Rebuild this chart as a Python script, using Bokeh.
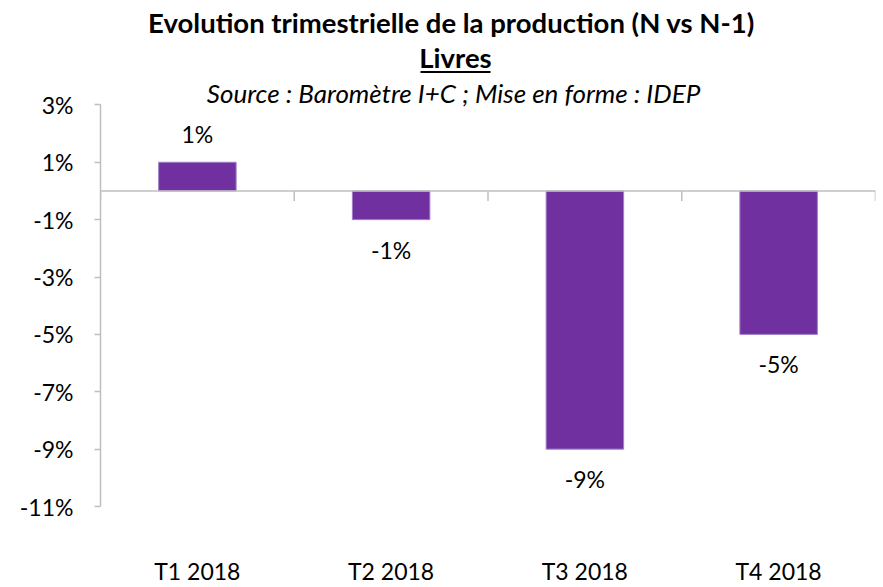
from bokeh.plotting import figure
from bokeh.models import (ColumnDataSource, FactorRange, Range1d, FixedTicker,
                          PrintfTickFormatter, Span)
from bokeh.core.properties import value
from bokeh.embed import file_html
from bokeh.resources import INLINE

categories = ["T1 2018", "T2 2018", "T3 2018", "T4 2018"]
values = [1, -1, -9, -5]
y_ticks = [3, 1, -1, -3, -5, -7, -9, -11]
title_text = "Evolution trimestrielle de la production (N vs N-1)"
subtitle_text = "Livres"
source_text = "Source : Baromètre I+C ; Mise en forme : IDEP"

FONT = "Lato"
PURPLE = "#7030A0"
GRID = "#BFBFBF"
FS = "23px"

# layout (pixels)
W, H = 877, 587
LEFT, RIGHT, BOTTOM = 100, 2, 78
AXIS_TOP_PX = 105            # pixel row of the highest tick
frame_h = H - BOTTOM
y_lo, y_hi = min(y_ticks), max(y_ticks)
ppu = (frame_h - AXIS_TOP_PX) / (y_hi - y_lo)
y_top = y_hi + AXIS_TOP_PX / ppu
cat_px = (W - LEFT - RIGHT) / len(categories)

def py(page_y):
    return y_hi + (AXIS_TOP_PX - page_y) / ppu

def px(page_x):
    return (page_x - LEFT) / cat_px

labels = [f"{v:d}%" for v in values]
offsets = [-28 if v >= 0 else 30 for v in values]
src = ColumnDataSource(dict(cat=categories, val=values, lab=labels, off=offsets))

p = figure(width=W, height=H, x_range=FactorRange(*categories, range_padding=0),
           y_range=Range1d(y_lo, y_top),
           output_backend="svg", toolbar_location=None,
           min_border_left=LEFT, min_border_right=RIGHT, min_border_top=0,
           min_border_bottom=BOTTOM)
p.outline_line_color = None
p.xgrid.visible = False
p.ygrid.visible = False

p.vbar(x="cat", top="val", bottom=0, width=0.4, source=src,
       fill_color=PURPLE, line_color="#A080C8", line_width=1)

p.text(x="cat", y="val", text="lab", y_offset="off", source=src,
       text_align="center", text_baseline="middle",
       text_font=value(FONT), text_font_size=FS, text_color="#000000")

# zero line with category-boundary ticks
p.add_layout(Span(location=0, dimension="width", line_color=GRID, line_width=1.5))
n = len(categories)
bounds = list(range(n + 1))
p.segment(x0=bounds, x1=bounds, y0=[0] * (n + 1), y1=[-0.35] * (n + 1),
          line_color=GRID, line_width=1.5)

# y axis
ya = p.yaxis[0]
ya.bounds = (y_lo, y_hi)
ya.ticker = FixedTicker(ticks=y_ticks)
ya.formatter = PrintfTickFormatter(format="%d%%")
ya.axis_line_color = GRID
ya.axis_line_width = 1.5
ya.major_tick_line_color = GRID
ya.major_tick_line_width = 1.5
ya.major_tick_in = 0
ya.major_tick_out = 6
ya.minor_tick_line_color = None
ya.major_label_text_font = FONT
ya.major_label_text_font_size = FS
ya.major_label_text_color = "#000000"
ya.major_label_standoff = 21

# x axis (labels only, far below)
xa = p.xaxis[0]
xa.axis_line_color = None
xa.major_tick_line_color = None
xa.minor_tick_line_color = None
xa.major_tick_in = 0
xa.major_tick_out = 0
xa.major_label_text_font = FONT
xa.major_label_text_font_size = FS
xa.major_label_text_color = "#000000"
xa.major_label_standoff = 50

# titles
p.text(x=[px(451)], y=[py(22)], text=[title_text], text_align="center",
       text_baseline="middle", text_font=value(FONT), text_font_style="bold",
       text_font_size="27.5px", text_color="#000000")
p.text(x=[px(455)], y=[py(57)], text=[subtitle_text], text_align="center",
       text_baseline="middle", text_font=value(FONT), text_font_style="bold",
       text_font_size="27.5px", text_color="#000000")
p.segment(x0=[px(420)], x1=[px(490)], y0=[py(72)], y1=[py(72)],
          line_color="#000000", line_width=2)
p.text(x=[px(453)], y=[py(93)], text=[source_text], text_align="center",
       text_baseline="middle", text_font=value(FONT), text_font_style="italic",
       text_font_size="26px", text_color="#000000")

open("out.html", "w").write(file_html(p, INLINE))
